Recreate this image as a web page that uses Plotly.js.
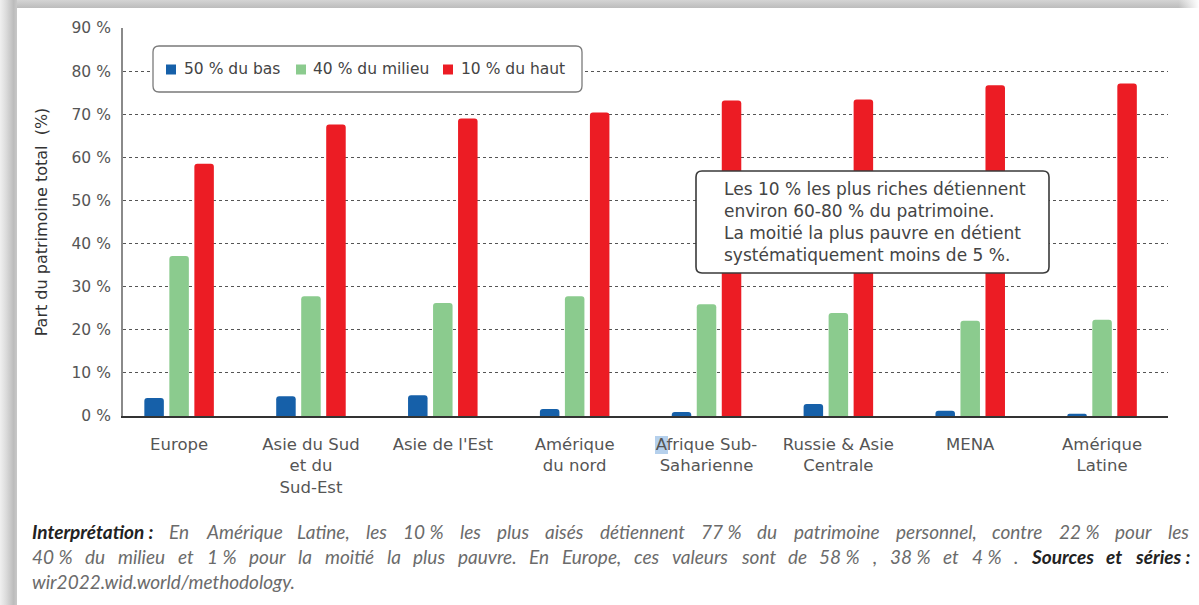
<!DOCTYPE html>
<html><head><meta charset="utf-8">
<script src="https://cdn.plot.ly/plotly-3.0.1.min.js"></script>
<style>
html,body{margin:0;padding:0;background:#fff;width:1199px;height:605px;overflow:hidden;position:relative}
#top{position:absolute;left:0;top:0;width:1199px;height:8px;background:linear-gradient(to right,rgba(255,255,255,0) 98.3%,#fff 100%),linear-gradient(to bottom,#d4d4d4,#bcbcbc)}
#left{position:absolute;left:0;top:0;width:17px;height:605px;background:linear-gradient(to right,#f0f0f0 0%,#dcdcdc 35%,#bcbcbc 80%,#c8c8c8 100%)}
#chart{position:absolute;left:0;top:0;width:1199px;height:605px}
</style></head>
<body><div id="top"></div><div id="left"></div><div id="chart"></div>
<script>
// ---- data ----
const categories = ['Europe', 'Asie du Sud<br>et du<br>Sud-Est', "Asie de l'Est", 'Amérique<br>du nord',
  'Afrique Sub-<br>Saharienne', 'Russie & Asie<br>Centrale', 'MENA', 'Amérique<br>Latine'];
const seriesNames = ['50 % du bas', '40 % du milieu', '10 % du haut'];
const bottom50 = [4.2, 4.6, 4.8, 1.6, 0.9, 2.8, 1.2, 0.5];
const middle40 = [37.1, 27.8, 26.2, 27.8, 25.9, 23.9, 22.1, 22.3];
const top10 = [58.5, 67.6, 69.0, 70.4, 73.2, 73.4, 76.7, 77.1];
const seriesColors = ['#1660a9', '#8bcb8e', '#ec1c24'];
const noteText = 'Les 10 % les plus riches détiennent<br>environ 60-80 % du patrimoine.<br>La moitié la plus pauvre en détient<br>systématiquement moins de 5 %.';
const yTitle = 'Part du patrimoine total\u00a0 (%)';
// interpretation paragraph (justified lines)
const paraLead = 'Interprétation\u00a0:';
const paraLine1 = 'En Amérique Latine, les 10\u00a0% les plus aisés détiennent 77\u00a0% du patrimoine personnel, contre 22\u00a0% pour les';
const paraLine2 = '40\u00a0% du milieu et 1\u00a0% pour la moitié la plus pauvre. En Europe, ces valeurs sont de 58\u00a0% , 38\u00a0% et 4\u00a0% .';
const paraTail = 'Sources et séries\u00a0:';
const paraLine3 = 'wir2022.wid.world/methodology.';

// ---- layout helpers ----
const W = 1199, H = 605, L = 123, R = 31, T = 28, B = 189;
const pw = W - L - R, ph = H - T - B;
const X = x => (x - L) / pw;
const Y = y => (H - B - y) / ph;
function rrect(x0, y0, x1, y1, r) {
  return `M${X(x0 + r)},${Y(y0)} L${X(x1 - r)},${Y(y0)} Q${X(x1)},${Y(y0)} ${X(x1)},${Y(y0 + r)} ` +
    `L${X(x1)},${Y(y1 - r)} Q${X(x1)},${Y(y1)} ${X(x1 - r)},${Y(y1)} L${X(x0 + r)},${Y(y1)} ` +
    `Q${X(x0)},${Y(y1)} ${X(x0)},${Y(y1 - r)} L${X(x0)},${Y(y0 + r)} Q${X(x0)},${Y(y0)} ${X(x0 + r)},${Y(y0)} Z`;
}
const FONT = 'DejaVu Sans';
const series = [bottom50, middle40, top10];
const traces = series.map((vals, i) => ({
  type: 'bar', x: categories, y: vals, name: seriesNames[i],
  marker: {color: seriesColors[i], line: {width: 0}}, showlegend: false, hoverinfo: 'skip'
}));

const shapes = [
  {type: 'path', xref: 'paper', yref: 'paper', path: rrect(655, 436, 668, 454, 0), fillcolor: 'rgba(120,170,220,0.55)', line: {width: 0}, layer: 'below'},
  {type: 'path', xref: 'paper', yref: 'paper', path: rrect(153, 46, 582, 92, 6), fillcolor: '#ffffff', line: {color: '#7a7a7a', width: 1.3}, layer: 'above'},
  {type: 'path', xref: 'paper', yref: 'paper', path: rrect(696, 171, 1049, 273, 6), fillcolor: '#ffffff', line: {color: '#3a3a3a', width: 1.6}, layer: 'above'}
];
const legendSquareX = [166, 296, 443];
const legendTextX = [182, 311, 459];
const annotations = [];
seriesNames.forEach((n, i) => {
  shapes.push({type: 'rect', xref: 'paper', yref: 'paper', x0: X(legendSquareX[i]), x1: X(legendSquareX[i] + 10),
    y0: Y(74.5), y1: Y(64.5), fillcolor: seriesColors[i], line: {width: 0}, layer: 'above'});
  annotations.push({xref: 'paper', yref: 'paper', x: X(legendTextX[i]), y: Y(69.5), xanchor: 'left', yanchor: 'middle',
    text: n, showarrow: false, font: {family: FONT, size: 15.5, color: '#444'}});
});
annotations.push({xref: 'paper', yref: 'paper', x: X(722), y: Y(222), xanchor: 'left', yanchor: 'middle', align: 'left',
  text: noteText, showarrow: false, font: {family: FONT, size: 17, color: '#444'}});

// justified paragraph: measure words and spread them over the text width
const PFS = 19, PX0 = 31, PX1 = 1188;
const ctx = document.createElement('canvas').getContext('2d');
function measure(w, bold) { ctx.font = `italic ${bold ? 'bold ' : ''}${PFS}px Lato`; return ctx.measureText(w).width; }
function tokens(str, bold) { return str.split(' ').map(w => [w, bold]); }
const paraLines = [
  {y: 531, justify: true, toks: [[paraLead, true], ...tokens(paraLine1, false)]},
  {y: 556, justify: true, toks: [...tokens(paraLine2, false), ...tokens(paraTail, true)]},
  {y: 581, justify: false, toks: tokens(paraLine3, false)}
];
paraLines.forEach(line => {
  const widths = line.toks.map(([w, b]) => measure(w, b));
  const total = widths.reduce((a, b) => a + b, 0);
  const gap = line.justify ? (PX1 - PX0 - total) / (line.toks.length - 1) : measure(' ', false);
  let x = PX0;
  line.toks.forEach(([w, b], k) => {
    annotations.push({xref: 'paper', yref: 'paper', x: X(x), y: Y(line.y), xanchor: 'left', yanchor: 'middle',
      text: b ? '<b>' + w + '</b>' : w, showarrow: false, borderpad: 0,
      font: {family: 'Lato', size: PFS, style: 'italic', color: b ? '#222' : '#6b6b6b'}});
    x += widths[k] + gap;
  });
});

const layout = {
  width: W, height: H, margin: {l: L, r: R, t: T, b: B, pad: 0},
  paper_bgcolor: 'rgba(0,0,0,0)', plot_bgcolor: 'rgba(0,0,0,0)',
  barmode: 'group', bargap: 0.431, bargroupgap: 0.22, barcornerradius: 3,
  showlegend: false,
  xaxis: {type: 'category', range: [-0.4255, 7.5], showline: true, linecolor: '#333', linewidth: 2,
    showgrid: false, zeroline: false, ticks: '', ticklabelstandoff: 12, automargin: false,
    tickfont: {family: FONT, size: 16.5, color: '#555'}, fixedrange: true},
  yaxis: {range: [0, 90], dtick: 10, tick0: 0, ticksuffix: ' %', showline: true, linecolor: '#8a8a8a', linewidth: 2,
    showgrid: true, gridcolor: '#555', griddash: 'dot', gridwidth: 1, zeroline: false, ticks: '',
    ticklabelstandoff: 7, automargin: false, tickfont: {family: FONT, size: 15.5, color: '#555'},
    title: {text: yTitle, font: {family: FONT, size: 16, color: '#333'}, standoff: 20}, fixedrange: true},
  shapes: shapes, annotations: annotations
};
Plotly.newPlot('chart', traces, layout, {displayModeBar: false, staticPlot: true});
</script></body></html>
